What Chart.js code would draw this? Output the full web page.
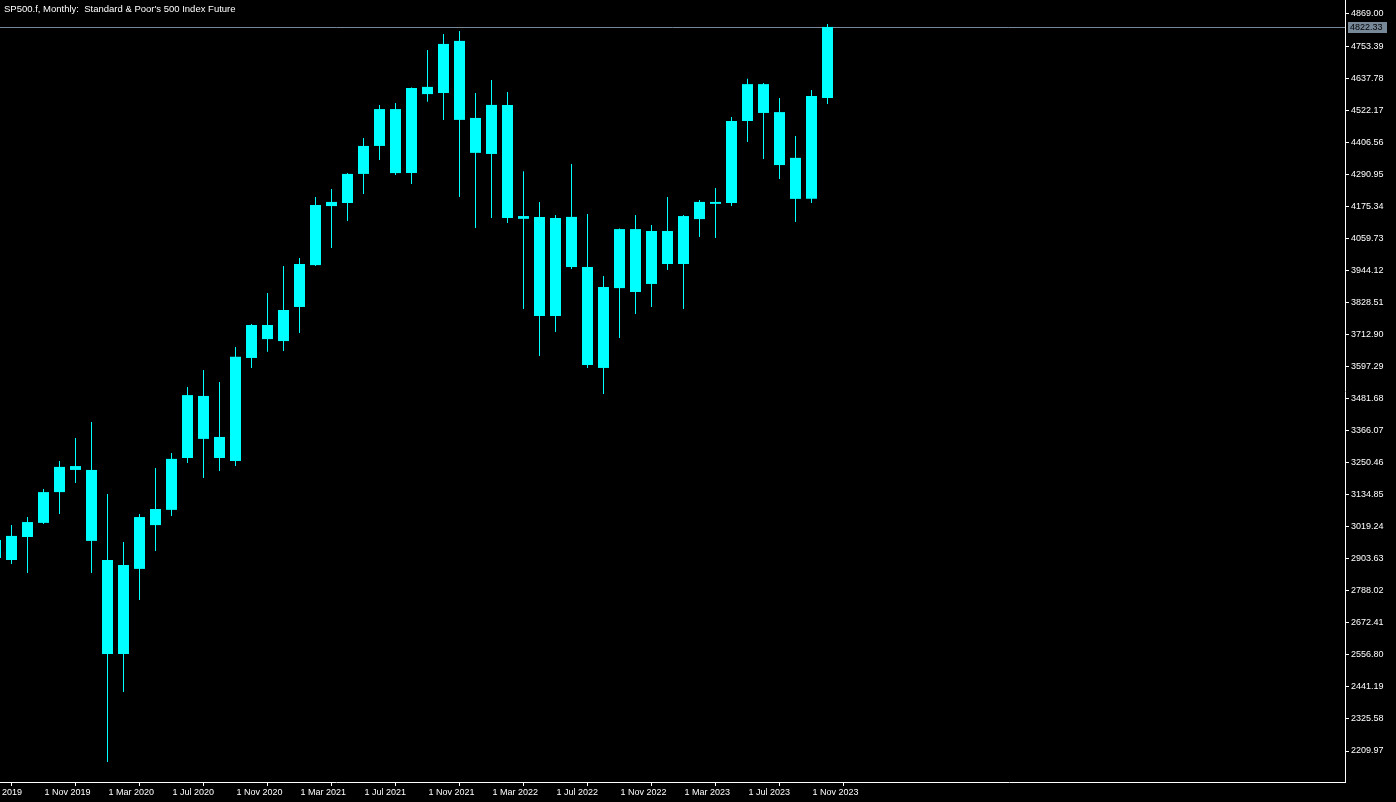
<!DOCTYPE html>
<html>
<head>
<meta charset="utf-8">
<script src="https://cdn.jsdelivr.net/npm/chart.js@4.4.1/dist/chart.umd.min.js"></script>
<style>
  html, body { margin: 0; padding: 0; background: #000; }
  #wrap { position: relative; width: 1396px; height: 802px; }
  #title { position: absolute; left: 4px; top: 3px; color: #fff; font: 9.5px/11px "Liberation Sans", Arial, sans-serif; white-space: pre; }
</style>
</head>
<body>
<div id="wrap">
  <canvas id="chart" width="1396" height="802"></canvas>
  <div id="title">SP500.f, Monthly:  Standard &amp; Poor's 500 Index Future</div>
</div>
<script>
// Dados mensais (OHLC)
const months = [
  '2019-08', '2019-09', '2019-10', '2019-11', '2019-12',
  '2020-01', '2020-02', '2020-03', '2020-04', '2020-05', '2020-06', '2020-07', '2020-08', '2020-09', '2020-10', '2020-11', '2020-12',
  '2021-01', '2021-02', '2021-03', '2021-04', '2021-05', '2021-06', '2021-07', '2021-08', '2021-09', '2021-10', '2021-11', '2021-12',
  '2022-01', '2022-02', '2022-03', '2022-04', '2022-05', '2022-06', '2022-07', '2022-08', '2022-09', '2022-10', '2022-11', '2022-12',
  '2023-01', '2023-02', '2023-03', '2023-04', '2023-05', '2023-06', '2023-07', '2023-08', '2023-09', '2023-10', '2023-11', '2023-12',
];
const opens = [
  2971, 2899, 2982, 3033, 3144,
  3238, 3224, 2899, 2560, 2867, 3025, 3080, 3267, 3491, 3343, 3256, 3628,
  3747, 3689, 3812, 3963, 4176, 4187, 4292, 4393, 4526, 4295, 4606, 4584,
  4772, 4494, 4364, 4541, 4130, 4137, 3779, 4137, 3956, 3592, 3880, 4093,
  3895, 4086, 3967, 4129, 4184, 4187, 4483, 4616, 4515, 4350, 4202, 4566,
];
const highs = [
  3025, 3025, 3054, 3155, 3256,
  3339, 3397, 3137, 2964, 3065, 3231, 3285, 3523, 3585, 3541, 3668, 3751,
  3862, 3960, 3989, 4209, 4238, 4295, 4422, 4541, 4548, 4604, 4739, 4797,
  4808, 4584, 4631, 4588, 4302, 4191, 4144, 4328, 4147, 3924, 4095, 4144,
  4108, 4209, 4144, 4198, 4241, 4497, 4635, 4620, 4566, 4429, 4595, 4833,
];
const lows = [
  2840, 2885, 2852, 3029, 3065,
  3177, 2852, 2170, 2423, 2755, 2932, 3058, 3249, 3195, 3220, 3238, 3592,
  3650, 3653, 3718, 3960, 4025, 4122, 4220, 4342, 4288, 4256, 4552, 4487,
  4209, 4097, 4133, 4115, 3805, 3635, 3722, 3949, 3592, 3498, 3700, 3787,
  3812, 3945, 3805, 4064, 4061, 4176, 4407, 4346, 4274, 4119, 4187, 4544,
];
const closes = [
  2906, 2986, 3036, 3144, 3235,
  3224, 2968, 2560, 2881, 3054, 3083, 3264, 3494, 3336, 3267, 3632, 3747,
  3696, 3801, 3967, 4180, 4191, 4292, 4393, 4526, 4295, 4602, 4580, 4761,
  4487, 4368, 4541, 4133, 4140, 3779, 4133, 3956, 3603, 3884, 4093, 3866,
  4086, 3967, 4140, 4191, 4191, 4483, 4616, 4512, 4324, 4202, 4573, 4822.33,
];

const yTickLabels = [
  '4869.00', '4753.39', '4637.78', '4522.17', '4406.56', '4290.95', '4175.34', '4059.73',
  '3944.12', '3828.51', '3712.90', '3597.29', '3481.68', '3366.07', '3250.46', '3134.85',
  '3019.24', '2903.63', '2788.02', '2672.41', '2556.80', '2441.19', '2325.58', '2209.97',
];
const xTickMonths = ['2019-07', '2019-11', '2020-03', '2020-07', '2020-11', '2021-03', '2021-07', '2021-11', '2022-03', '2022-07', '2022-11', '2023-03', '2023-07', '2023-11'];
const xTickLabels = ['1 Jul 2019', '1 Nov 2019', '1 Mar 2020', '1 Jul 2020', '1 Nov 2020', '1 Mar 2021', '1 Jul 2021', '1 Nov 2021', '1 Mar 2022', '1 Jul 2022', '1 Nov 2022', '1 Mar 2023', '1 Jul 2023', '1 Nov 2023'];

const candleColor = '#00ffff';
const priceColor = '#778899';
const font = { family: '"Liberation Sans", Arial, sans-serif', size: 9 };

// índice do mês (0 = ago/2019)
const monthIdx = (key) => {
  const [y, m] = key.split('-').map(Number);
  return (y - 2019) * 12 + (m - 8);
};

const bodies = months.map((m, i) => ({ x: monthIdx(m), y: [opens[i], closes[i]] }));
const wicks = months.map((m, i) => ({ x: monthIdx(m), y: [lows[i], highs[i]] }));

// Linha do último preço + etiqueta no eixo
const priceLine = {
  id: 'priceLine',
  beforeDatasetsDraw(chart) {
    const { ctx, chartArea, scales } = chart;
    const y = Math.round(scales.y.getPixelForValue(closes[closes.length - 1])) + 0.5;
    ctx.save();
    ctx.strokeStyle = priceColor;
    ctx.lineWidth = 1;
    ctx.beginPath();
    ctx.moveTo(chartArea.left, y);
    ctx.lineTo(chartArea.right, y);
    ctx.stroke();
    ctx.restore();
  },
  afterDraw(chart) {
    const { ctx, chartArea, scales } = chart;
    const last = closes[closes.length - 1];
    const y = Math.round(scales.y.getPixelForValue(last));
    ctx.save();
    ctx.fillStyle = priceColor;
    ctx.fillRect(chartArea.right + 3, y - 5, 39, 11);
    ctx.fillStyle = '#000';
    ctx.font = `${font.size}px ${font.family}`;
    ctx.textBaseline = 'middle';
    ctx.fillText(last.toFixed(2), chartArea.right + 5, y + 0.5);
    ctx.restore();
  },
};

new Chart(document.getElementById('chart'), {
  type: 'bar',
  data: {
    datasets: [
      { data: bodies, backgroundColor: candleColor, barThickness: 11, grouped: false, borderWidth: 0, inflateAmount: 0 },
      { data: wicks, backgroundColor: candleColor, barThickness: 1, grouped: false, borderWidth: 0, inflateAmount: 0 },
    ],
  },
  options: {
    responsive: false,
    animation: false,
    devicePixelRatio: 1,
    layout: { padding: 0, autoPadding: false },
    plugins: { legend: { display: false }, tooltip: { enabled: false } },
    scales: {
      x: {
        type: 'linear',
        min: 0.28125,
        max: 84.34375,
        offset: false,
        bounds: 'data',
        afterBuildTicks: (s) => { s.ticks = xTickMonths.map((k) => ({ value: monthIdx(k) })); },
        afterFit: (s) => { s.height = 20; s.paddingLeft = 0; s.paddingRight = 0; },
        grid: { drawOnChartArea: false, drawTicks: true, tickLength: 4, color: '#fff' },
        border: { display: true, color: '#fff' },
        ticks: {
          color: '#fff', font, align: 'start', autoSkip: false, maxRotation: 0, minRotation: 0,
          padding: 1, labelOffset: 1, callback: (v, i) => xTickLabels[i],
        },
      },
      y: {
        type: 'linear',
        position: 'right',
        min: 2098.13,
        max: 4919.51,
        bounds: 'data',
        afterBuildTicks: (s) => { s.ticks = yTickLabels.map((t) => ({ value: parseFloat(t) })); },
        afterFit: (s) => { s.width = 51; s.paddingTop = 0; s.paddingBottom = 0; },
        grid: { drawOnChartArea: false, drawTicks: true, tickLength: 4, color: '#fff' },
        border: { display: true, color: '#fff' },
        ticks: { color: '#fff', font, padding: 2, autoSkip: false, callback: (v, i) => yTickLabels[i] },
      },
    },
  },
  plugins: [priceLine],
});
</script>
</body>
</html>
